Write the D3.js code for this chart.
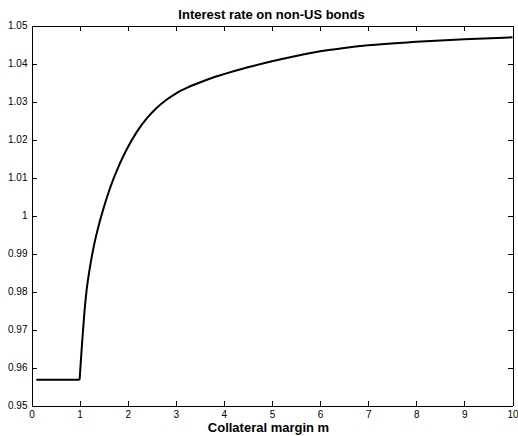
<!DOCTYPE html>
<html>
<head>
<meta charset="utf-8">
<script src="https://cdn.jsdelivr.net/npm/d3@7"></script>
<style>
	body { margin: 0; background: #fff; }
	svg { display: block; font-family: "Liberation Sans", Arial, Helvetica, sans-serif; }
	.axis path, .axis line { stroke: #000; stroke-width: 1; shape-rendering: crispEdges; }
	.axis text { font-size: 10px; fill: #000; }
	.line { fill: none; stroke: #000; stroke-width: 2; }
</style>
</head>
<body>
<svg id="chart" width="518" height="436"></svg>
<script>

// flat part (margin below 1)
var flatM = [ 0.1, 1.0 ];
var flatR = [ 0.9568, 0.9568 ];

// curve part
var curveM = [ 1.0, 1.05, 1.1, 1.15, 1.2, 1.3, 1.4, 1.5, 1.6, 1.7, 1.8, 1.9, 2.0, 2.2, 2.4, 2.6, 2.8, 3.0, 3.25, 3.5, 3.75, 4.0, 4.5, 5.0, 5.5, 6.0, 6.5, 7.0, 8.0, 9.0, 10.0 ];
var curveR = [ 0.9568, 0.9662, 0.9745, 0.9808, 0.9852, 0.9922, 0.9975, 1.0020, 1.0060, 1.0095, 1.0126, 1.0154, 1.0179, 1.0222, 1.0256, 1.0283, 1.0304, 1.0321, 1.0337, 1.0350, 1.0362, 1.0372, 1.0390, 1.0406, 1.0420, 1.0432, 1.0441, 1.0448, 1.0457, 1.0464, 1.0469 ];

var xTicks = [ 0, 1, 2, 3, 4, 5, 6, 7, 8, 9, 10 ];
var yTicks = [ 0.95, 0.96, 0.97, 0.98, 0.99, 1, 1.01, 1.02, 1.03, 1.04, 1.05 ];

var title = 'Interest rate on non-US bonds';
var xLabel = 'Collateral margin m';

var padding = { top: 25, right: 6, bottom: 31, left: 31 };
var width = 518 - padding.left - padding.right;
var height = 436 - padding.top - padding.bottom;

var svg = d3.select( '#chart' );

var x = d3.scaleLinear().domain( [ 0, 10 ] ).range( [ 0, width ] );
var y = d3.scaleLinear().domain( [ 0.95, 1.05 ] ).range( [ height, 0 ] );

var g = svg.append( 'g' )
	.attr( 'transform', 'translate(' + ( padding.left + 0.5 ) + ',' + ( padding.top + 0.5 ) + ')' );

var fmt = d3.format( '~g' );

g.append( 'g' )
	.classed( 'axis', true )
	.attr( 'transform', 'translate(0,' + height + ')' )
	.call( d3.axisBottom( x ).tickValues( xTicks ).tickSizeInner( -5 ).tickSizeOuter( 0 ).tickPadding( 5 ).tickFormat( fmt ) );

g.append( 'g' )
	.classed( 'axis', true )
	.call( d3.axisLeft( y ).tickValues( yTicks ).tickSizeInner( -5 ).tickSizeOuter( 0 ).tickPadding( 4 ).tickFormat( fmt ) );

g.append( 'g' )
	.classed( 'axis', true )
	.call( d3.axisTop( x ).tickValues( xTicks ).tickSizeInner( -5 ).tickSizeOuter( 0 ).tickFormat( '' ) );

g.append( 'g' )
	.classed( 'axis', true )
	.attr( 'transform', 'translate(' + width + ',0)' )
	.call( d3.axisRight( y ).tickValues( yTicks ).tickSizeInner( -5 ).tickSizeOuter( 0 ).tickFormat( '' ) );

var flatData = flatM.map( function ( m, i ) { return { m: m, r: flatR[i] }; } );
var curveData = curveM.map( function ( m, i ) { return { m: m, r: curveR[i] }; } );

var straight = d3.line()
	.x( function ( d ) { return x( d.m ); } )
	.y( function ( d ) { return y( d.r ); } );

var smooth = d3.line()
	.curve( d3.curveMonotoneX )
	.x( function ( d ) { return x( d.m ); } )
	.y( function ( d ) { return y( d.r ); } );

g.append( 'path' ).datum( flatData ).classed( 'line', true ).attr( 'd', straight );
g.append( 'path' ).datum( curveData ).classed( 'line', true ).attr( 'd', smooth );

svg.append( 'text' )
	.attr( 'x', padding.left + width / 2 )
	.attr( 'y', 19 )
	.attr( 'text-anchor', 'middle' )
	.style( 'font-size', '13px' )
	.style( 'font-weight', 'bold' )
	.text( title );

svg.append( 'text' )
	.attr( 'x', padding.left + width / 2 - 3 )
	.attr( 'y', 432 )
	.attr( 'text-anchor', 'middle' )
	.style( 'font-size', '13px' )
	.style( 'font-weight', 'bold' )
	.text( xLabel );

</script>
</body>
</html>
